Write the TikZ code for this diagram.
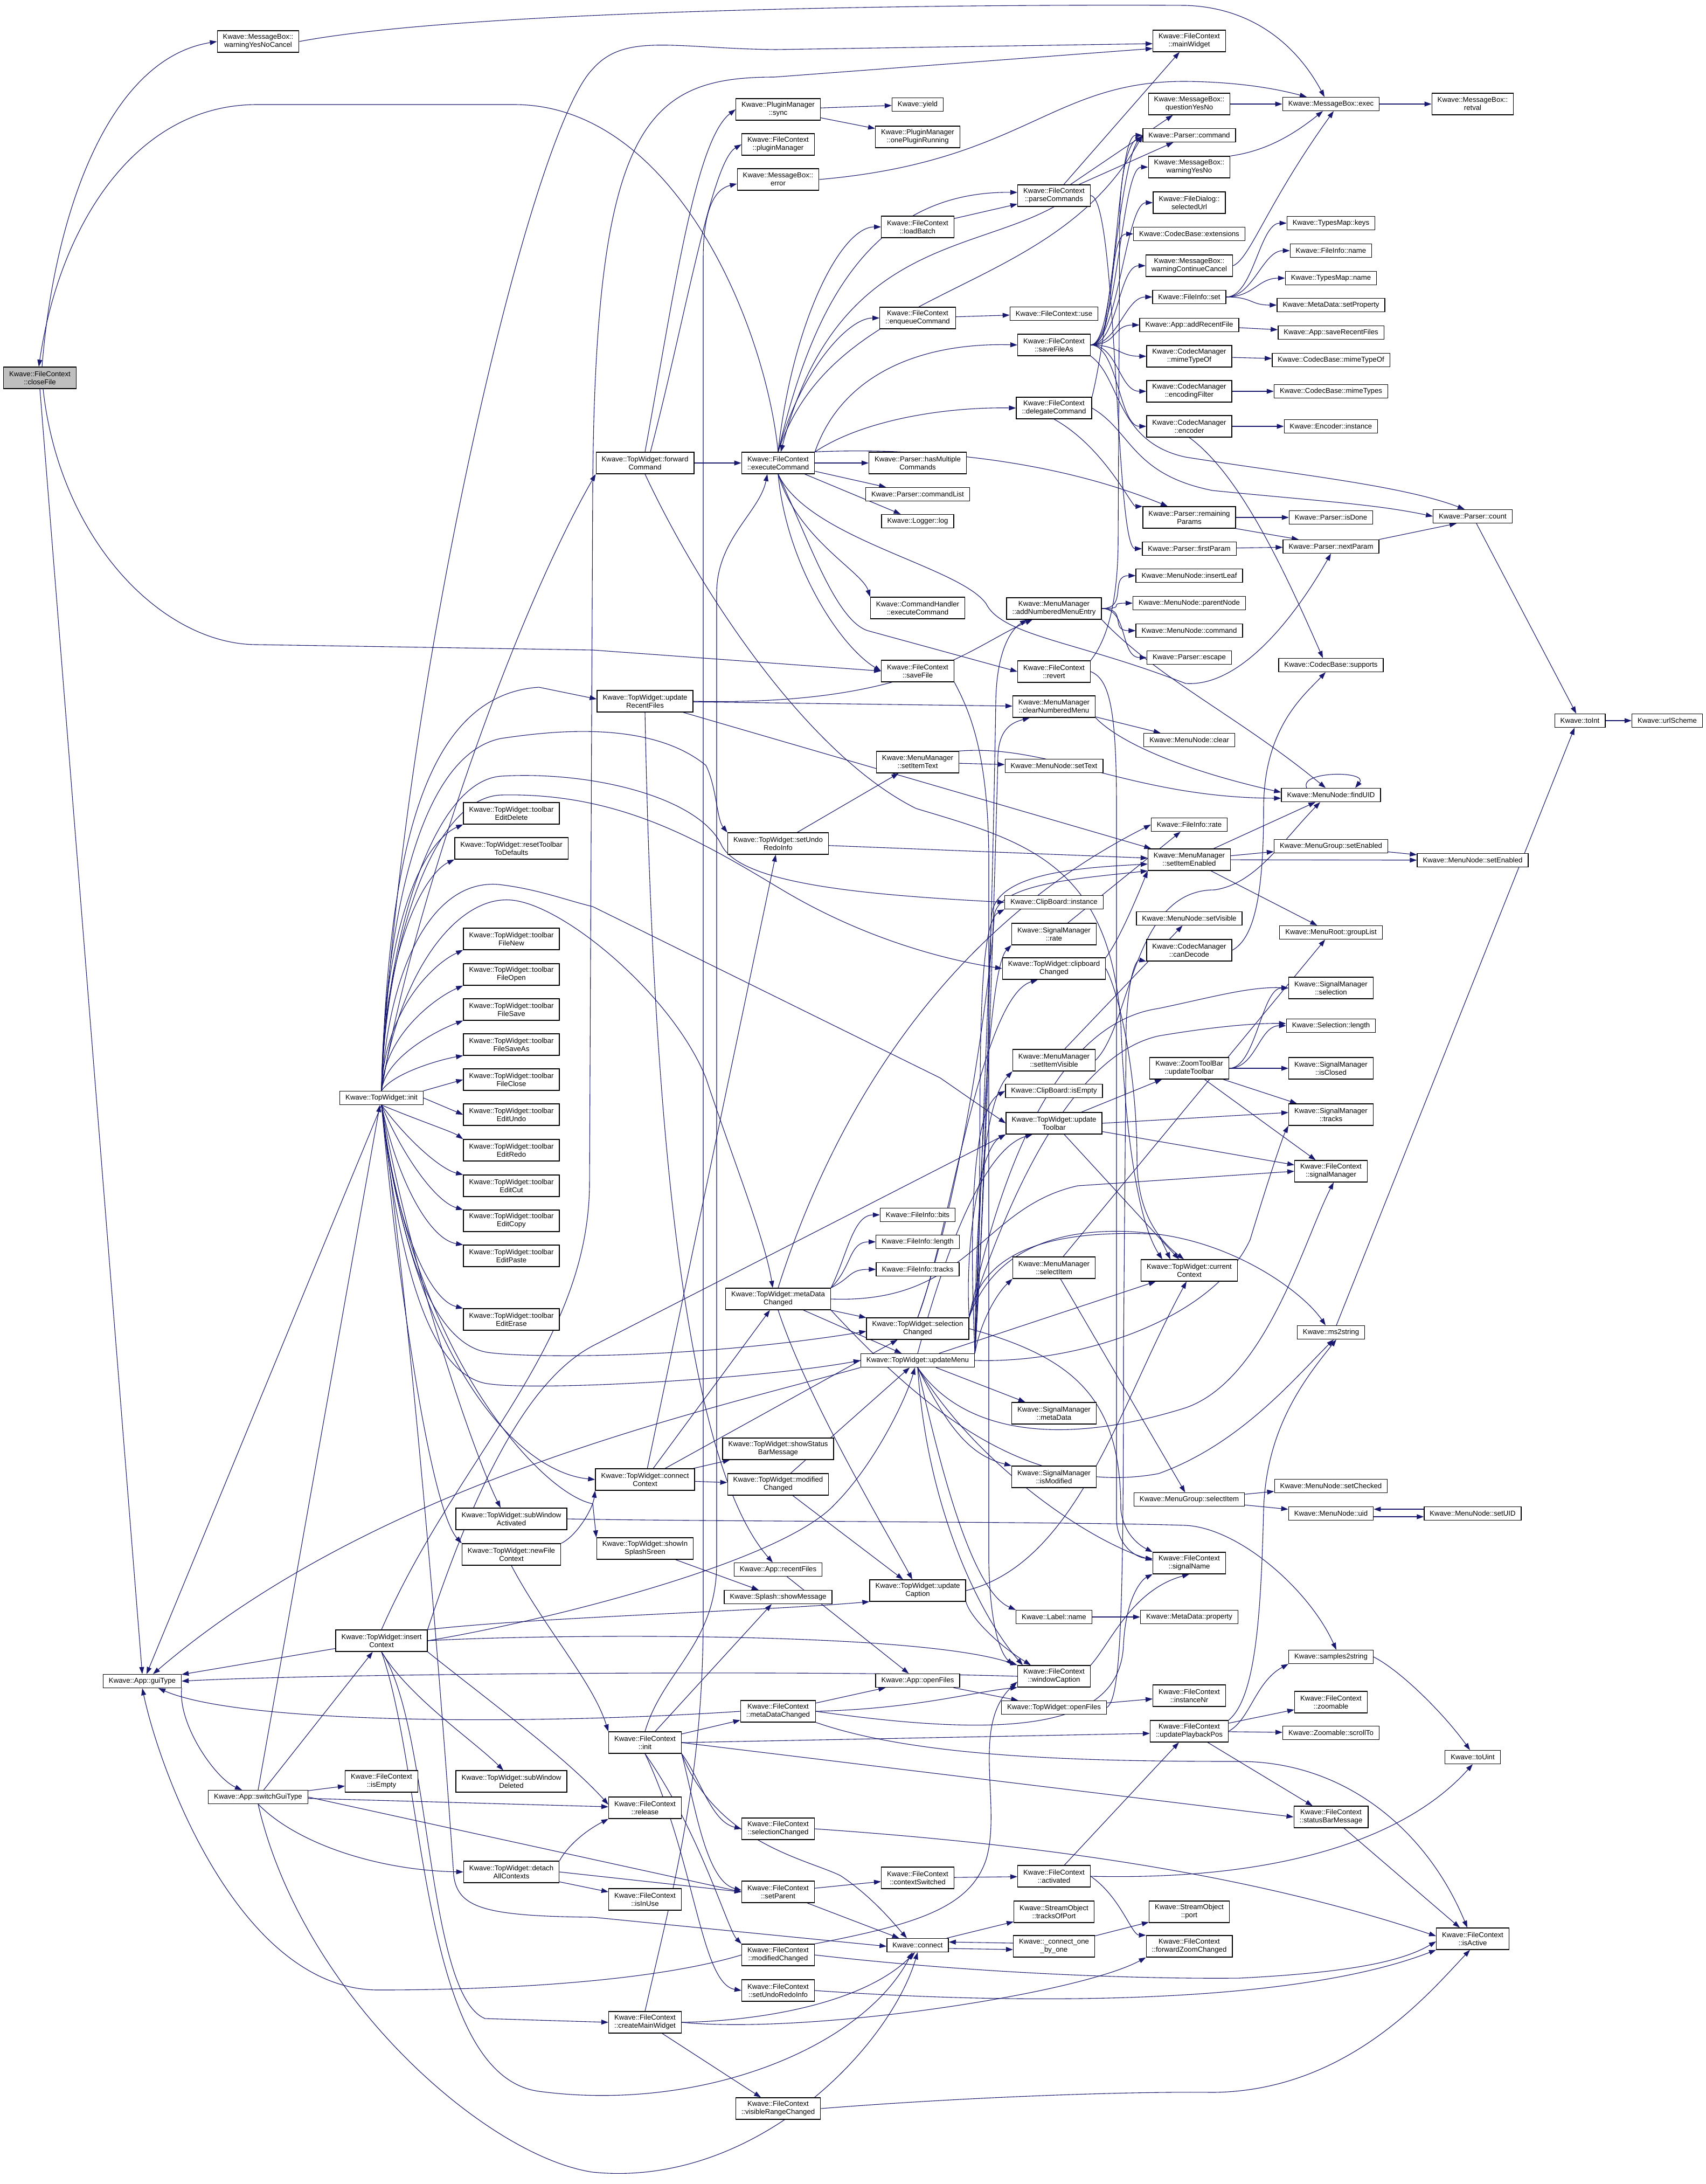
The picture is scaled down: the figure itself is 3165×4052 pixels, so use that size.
\documentclass[tikz,border=0pt]{standalone}
\usepackage{fontspec}
\setmainfont{Liberation Sans}
\usetikzlibrary{arrows.meta,backgrounds}
\definecolor{eb}{RGB}{25,25,112}
\definecolor{gr}{RGB}{191,191,191}
\newcommand\myS[2]{\draw[e] (#1) -- (#2);}
\newcommand\myR[2]{\draw[e] (#1.east) .. controls +(50,0) and +(-50,0) .. (#2.west);}
\begin{document}
\begin{tikzpicture}[x=1pt,y=-1pt,
 n/.style={draw=black,line width=1.3pt,fill=white,font=\fontsize{13.2}{15}\selectfont,inner xsep=10.5pt,inner ysep=1pt,minimum height=25pt,align=center},
 d/.style={n,minimum height=40pt},
 e/.style={draw=eb,line width=1.1pt,-{Triangle[length=13pt,width=9pt]}}]
\useasboundingbox (0,0) rectangle (3165,4052);
% ---------------- nodes ----------------
\node[d,fill=gr] (closeFile) at (74,701) {Kwave::FileContext\\::closeFile};
\node[d] (wYNC) at (479,77) {Kwave::MessageBox::\\warningYesNoCancel};
\node[n] (guiType) at (264,3119) {Kwave::App::guiType};
\node[n] (switchGui) at (479,3334) {Kwave::App::switchGuiType};
\node[n] (twInit) at (708,2037) {Kwave::TopWidget::init};
\node[d] (insertCtx) at (708,3044) {Kwave::TopWidget::insert\\Context};
\node[d] (isEmpty) at (708,3305) {Kwave::FileContext\\::isEmpty};
\node[d] (tbEditDelete) at (949,1509) {Kwave::TopWidget::toolbar\\EditDelete};
\node[d] (resetTb) at (949,1574) {Kwave::TopWidget::resetToolbar\\ToDefaults};
\node[d] (tbFileNew) at (949,1742) {Kwave::TopWidget::toolbar\\FileNew};
\node[d] (tbFileOpen) at (949,1808) {Kwave::TopWidget::toolbar\\FileOpen};
\node[d] (tbFileSave) at (949,1873) {Kwave::TopWidget::toolbar\\FileSave};
\node[d] (tbFileSaveAs) at (949,1938) {Kwave::TopWidget::toolbar\\FileSaveAs};
\node[d] (tbFileClose) at (949,2003) {Kwave::TopWidget::toolbar\\FileClose};
\node[d] (tbEditUndo) at (949,2068) {Kwave::TopWidget::toolbar\\EditUndo};
\node[d] (tbEditRedo) at (949,2134) {Kwave::TopWidget::toolbar\\EditRedo};
\node[d] (tbEditCut) at (949,2200) {Kwave::TopWidget::toolbar\\EditCut};
\node[d] (tbEditCopy) at (949,2265) {Kwave::TopWidget::toolbar\\EditCopy};
\node[d] (tbEditPaste) at (949,2330) {Kwave::TopWidget::toolbar\\EditPaste};
\node[d] (tbEditErase) at (949,2448) {Kwave::TopWidget::toolbar\\EditErase};
\node[d] (subWinAct) at (949,2818) {Kwave::TopWidget::subWindow\\Activated};
\node[d] (newFileCtx) at (949,2884) {Kwave::TopWidget::newFile\\Context};
\node[d] (subWinDel) at (949,3305) {Kwave::TopWidget::subWindow\\Deleted};
\node[d] (detachAll) at (949,3473) {Kwave::TopWidget::detach\\AllContexts};
\node[d] (fwdCmd) at (1197,859) {Kwave::TopWidget::forward\\Command};
\node[d] (updRecent) at (1197,1301) {Kwave::TopWidget::update\\RecentFiles};
\node[d] (connCtx) at (1197,2745) {Kwave::TopWidget::connect\\Context};
\node[d] (showInSplash) at (1197,2873) {Kwave::TopWidget::showIn\\SplashSreen};
\node[d] (fcInit) at (1197,3233) {Kwave::FileContext\\::init};
\node[d] (release) at (1197,3354) {Kwave::FileContext\\::release};
\node[d] (isInUse) at (1197,3524) {Kwave::FileContext\\::isInUse};
\node[d] (createMW) at (1197,3752) {Kwave::FileContext\\::createMainWidget};
\node[d] (pmSync) at (1444,203) {Kwave::PluginManager\\::sync};
\node[d] (pluginMgr) at (1444,268) {Kwave::FileContext\\::pluginManager};
\node[d] (mbError) at (1444,333) {Kwave::MessageBox::\\error};
\node[d] (execCmd) at (1444,859) {Kwave::FileContext\\::executeCommand};
\node[d] (twSetUndo) at (1444,1565) {Kwave::TopWidget::setUndo\\RedoInfo};
\node[d] (twMetaChg) at (1444,2410) {Kwave::TopWidget::metaData\\Changed};
\node[d] (showStatus) at (1444,2688) {Kwave::TopWidget::showStatus\\BarMessage};
\node[d] (twModChg) at (1444,2754) {Kwave::TopWidget::modified\\Changed};
\node[n] (recentFiles) at (1444,2912) {Kwave::App::recentFiles};
\node[n] (splashMsg) at (1444,2963) {Kwave::Splash::showMessage};
\node[d] (fcMetaChg) at (1444,3175) {Kwave::FileContext\\::metaDataChanged};
\node[d] (fcSelChg) at (1444,3393) {Kwave::FileContext\\::selectionChanged};
\node[d] (setParent) at (1444,3510) {Kwave::FileContext\\::setParent};
\node[d] (fcModChg) at (1444,3627) {Kwave::FileContext\\::modifiedChanged};
\node[d] (fcSetUndo) at (1444,3693) {Kwave::FileContext\\::setUndoRedoInfo};
\node[d] (visRange) at (1444,3912) {Kwave::FileContext\\::visibleRangeChanged};
\node[n] (yield) at (1703,194) {Kwave::yield};
\node[d] (onePlugin) at (1703,254) {Kwave::PluginManager\\::onePluginRunning};
\node[d] (loadBatch) at (1703,421) {Kwave::FileContext\\::loadBatch};
\node[d] (enqueue) at (1703,590) {Kwave::FileContext\\::enqueueCommand};
\node[d] (hasMulti) at (1703,859) {Kwave::Parser::hasMultiple\\Commands};
\node[n] (cmdList) at (1703,917) {Kwave::Parser::commandList};
\node[n] (logN) at (1703,967) {Kwave::Logger::log};
\node[d] (chExec) at (1703,1128) {Kwave::CommandHandler\\::executeCommand};
\node[d] (saveFile) at (1703,1245) {Kwave::FileContext\\::saveFile};
\node[d] (setItemText) at (1703,1414) {Kwave::MenuManager\\::setItemText};
\node[n] (fiBits) at (1703,2254) {Kwave::FileInfo::bits};
\node[n] (fiLength) at (1703,2304) {Kwave::FileInfo::length};
\node[n] (fiTracks) at (1703,2355) {Kwave::FileInfo::tracks};
\node[d] (twSelChg) at (1703,2465) {Kwave::TopWidget::selection\\Changed};
\node[n] (updMenu) at (1703,2524) {Kwave::TopWidget::updateMenu};
\node[d] (updCaption) at (1703,2951) {Kwave::TopWidget::update\\Caption};
\node[n] (appOpenFiles) at (1703,3118) {Kwave::App::openFiles};
\node[d] (ctxSwitched) at (1703,3484) {Kwave::FileContext\\::contextSwitched};
\node[n] (connectN) at (1703,3609) {Kwave::connect};
\node[d] (parseCmds) at (1956,363) {Kwave::FileContext\\::parseCommands};
\node[n] (fcUse) at (1956,582) {Kwave::FileContext::use};
\node[d] (saveFileAs) at (1956,640) {Kwave::FileContext\\::saveFileAs};
\node[d] (delegate) at (1956,757) {Kwave::FileContext\\::delegateCommand};
\node[d] (addNumbered) at (1956,1129) {Kwave::MenuManager\\::addNumberedMenuEntry};
\node[d] (revert) at (1956,1246) {Kwave::FileContext\\::revert};
\node[d] (clearNumbered) at (1956,1311) {Kwave::MenuManager\\::clearNumberedMenu};
\node[n] (mnSetText) at (1956,1421) {Kwave::MenuNode::setText};
\node[n] (cbInstance) at (1956,1674) {Kwave::ClipBoard::instance};
\node[d] (smRate) at (1956,1733) {Kwave::SignalManager\\::rate};
\node[d] (clipChg) at (1956,1797) {Kwave::TopWidget::clipboard\\Changed};
\node[d] (setItemVisible) at (1956,1967) {Kwave::MenuManager\\::setItemVisible};
\node[n] (cbIsEmpty) at (1956,2024) {Kwave::ClipBoard::isEmpty};
\node[d] (updToolbar) at (1956,2084) {Kwave::TopWidget::update\\Toolbar};
\node[d] (mmSelectItem) at (1956,2352) {Kwave::MenuManager\\::selectItem};
\node[d] (smMetaData) at (1956,2622) {Kwave::SignalManager\\::metaData};
\node[d] (smIsModified) at (1956,2740) {Kwave::SignalManager\\::isModified};
\node[n] (labelName) at (1956,3000) {Kwave::Label::name};
\node[d] (winCaption) at (1956,3110) {Kwave::FileContext\\::windowCaption};
\node[n] (twOpenFiles) at (1956,3168) {Kwave::TopWidget::openFiles};
\node[d] (activated) at (1956,3481) {Kwave::FileContext\\::activated};
\node[d] (tracksOfPort) at (1956,3547) {Kwave::StreamObject\\::tracksOfPort};
\node[d] (connOne) at (1956,3611) {Kwave::\_connect\_one\\\_by\_one};
\node[d] (mainWidget) at (2207,76) {Kwave::FileContext\\::mainWidget};
\node[d] (questionYN) at (2207,193) {Kwave::MessageBox::\\questionYesNo};
\node[n] (parserCommand) at (2207,251) {Kwave::Parser::command};
\node[d] (warnYN) at (2207,310) {Kwave::MessageBox::\\warningYesNo};
\node[d] (selectedUrl) at (2207,376) {Kwave::FileDialog::\\selectedUrl};
\node[n] (extensions) at (2207,434) {Kwave::CodecBase::extensions};
\node[d] (warnCC) at (2207,493) {Kwave::MessageBox::\\warningContinueCancel};
\node[n] (fiSet) at (2207,551) {Kwave::FileInfo::set};
\node[n] (addRecent) at (2207,603) {Kwave::App::addRecentFile};
\node[d] (cmMimeTypeOf) at (2207,661) {Kwave::CodecManager\\::mimeTypeOf};
\node[d] (encFilter) at (2207,726) {Kwave::CodecManager\\::encodingFilter};
\node[d] (encoder) at (2207,791) {Kwave::CodecManager\\::encoder};
\node[d] (remaining) at (2207,960) {Kwave::Parser::remaining\\Params};
\node[n] (firstParam) at (2207,1018) {Kwave::Parser::firstParam};
\node[n] (insertLeaf) at (2207,1068) {Kwave::MenuNode::insertLeaf};
\node[n] (parentNode) at (2207,1119) {Kwave::MenuNode::parentNode};
\node[n] (mnCommand) at (2207,1170) {Kwave::MenuNode::command};
\node[n] (escapeN) at (2207,1220) {Kwave::Parser::escape};
\node[n] (mnClear) at (2207,1373) {Kwave::MenuNode::clear};
\node[n] (fiRate) at (2207,1530) {Kwave::FileInfo::rate};
\node[d] (setItemEnabled) at (2207,1595) {Kwave::MenuManager\\::setItemEnabled};
\node[n] (mnSetVisible) at (2207,1704) {Kwave::MenuNode::setVisible};
\node[d] (canDecode) at (2207,1763) {Kwave::CodecManager\\::canDecode};
\node[d] (zoomTb) at (2207,1982) {Kwave::ZoomToolBar\\::updateToolbar};
\node[d] (curCtx) at (2207,2357) {Kwave::TopWidget::current\\Context};
\node[n] (mgSelectItem) at (2207,2782) {Kwave::MenuGroup::selectItem};
\node[d] (signalName) at (2207,2900) {Kwave::FileContext\\::signalName};
\node[n] (mdProperty) at (2207,3000) {Kwave::MetaData::property};
\node[d] (instanceNr) at (2207,3146) {Kwave::FileContext\\::instanceNr};
\node[d] (updPlayback) at (2207,3212) {Kwave::FileContext\\::updatePlaybackPos};
\node[d] (soPort) at (2207,3547) {Kwave::StreamObject\\::port};
\node[d] (fwdZoom) at (2207,3611) {Kwave::FileContext\\::forwardZoomChanged};
\node[n] (mbExec) at (2470,193) {Kwave::MessageBox::exec};
\node[n] (tmKeys) at (2470,414) {Kwave::TypesMap::keys};
\node[n] (fiName) at (2470,465) {Kwave::FileInfo::name};
\node[n] (tmName) at (2470,516) {Kwave::TypesMap::name};
\node[n] (mdSetProp) at (2470,566) {Kwave::MetaData::setProperty};
\node[n] (saveRecent) at (2470,617) {Kwave::App::saveRecentFiles};
\node[n] (cbMimeTypeOf) at (2470,668) {Kwave::CodecBase::mimeTypeOf};
\node[n] (mimeTypes) at (2470,726) {Kwave::CodecBase::mimeTypes};
\node[n] (encInstance) at (2470,791) {Kwave::Encoder::instance};
\node[n] (isDone) at (2470,960) {Kwave::Parser::isDone};
\node[n] (nextParam) at (2470,1014) {Kwave::Parser::nextParam};
\node[n] (supports) at (2470,1234) {Kwave::CodecBase::supports};
\node[n] (findUID) at (2470,1475) {Kwave::MenuNode::findUID};
\node[n] (mgSetEnabled) at (2470,1570) {Kwave::MenuGroup::setEnabled};
\node[n] (groupList) at (2470,1730) {Kwave::MenuRoot::groupList};
\node[d] (smSelection) at (2470,1833) {Kwave::SignalManager\\::selection};
\node[n] (selLength) at (2470,1903) {Kwave::Selection::length};
\node[d] (smIsClosed) at (2470,1982) {Kwave::SignalManager\\::isClosed};
\node[d] (smTracks) at (2470,2068) {Kwave::SignalManager\\::tracks};
\node[d] (signalMgr) at (2470,2173) {Kwave::FileContext\\::signalManager};
\node[n] (ms2string) at (2470,2472) {Kwave::ms2string};
\node[n] (setChecked) at (2470,2757) {Kwave::MenuNode::setChecked};
\node[n] (mnUid) at (2470,2808) {Kwave::MenuNode::uid};
\node[n] (samples2string) at (2470,3074) {Kwave::samples2string};
\node[d] (zoomable) at (2470,3158) {Kwave::FileContext\\::zoomable};
\node[n] (scrollTo) at (2470,3215) {Kwave::Zoomable::scrollTo};
\node[d] (statusBar) at (2470,3371) {Kwave::FileContext\\::statusBarMessage};
\node[d] (retval) at (2733,193) {Kwave::MessageBox::\\retval};
\node[n] (countN) at (2733,958) {Kwave::Parser::count};
\node[n] (mnSetEnabled) at (2733,1596) {Kwave::MenuNode::setEnabled};
\node[n] (setUID) at (2733,2808) {Kwave::MenuNode::setUID};
\node[n] (toUint) at (2733,3260) {Kwave::toUint};
\node[d] (isActive) at (2733,3597) {Kwave::FileContext\\::isActive};
\node[n] (toInt) at (2932,1337) {Kwave::toInt};
\node[n] (urlScheme) at (3094,1337) {Kwave::urlScheme};
% ---------------- edges ----------------
\begin{scope}[on background layer]
\fill[white] (0,0) rectangle (3165,4052);
% closeFile
\draw[e] ([xshift=4pt]closeFile.north) .. controls (100,400) and (200,110) .. (wYNC.west);
\draw[e] (wYNC.east) .. controls (900,12) and (1900,8) .. (2200,10) .. controls (2330,14) and (2410,90) .. ([xshift=-12pt]mbExec.north);
\draw[e] (execCmd.north) .. controls (1420,600) and (1250,194) .. (954,194) -- (477,194) .. controls (250,194) and (110,420) .. ([xshift=-2pt]closeFile.north);
\draw[e] (closeFile.south) -- (guiType.north);
\draw[e] ([xshift=6pt]closeFile.south) .. controls (110,1000) and (300,1196) .. (477,1196) -- (1100,1206) -- (saveFile.west);
% mainWidget
\draw[e] (twInit.north) .. controls (740,1300) and (980,250) .. (1100,128) .. controls (1160,60) and (1250,90) .. (1440,92) -- ([yshift=-5pt]mainWidget.west);
\draw[e] (insertCtx.north) .. controls (850,2700) and (1090,2500) .. (1094,2200) -- (1100,900) .. controls (1105,230) and (1200,143) .. (1437,143) -- ([yshift=-14pt]mainWidget.west);
\myS{parseCmds}{mainWidget}
% plugin / error
\draw[e] (fwdCmd.north) .. controls (1250,550) and (1290,260) .. (pmSync.west);
\draw[e] ([xshift=10pt]fwdCmd.north) .. controls (1270,600) and (1320,300) .. (pluginMgr.west);
\draw[e] (createMW.north) .. controls (1250,3500) and (1305,3300) .. (1305,3000) -- (1305,480) .. controls (1305,380) and (1330,350) .. ([yshift=-8pt]mbError.west);
\myS{pmSync}{yield}
\myS{pmSync}{onePlugin}
\draw[e] (mbError.east) .. controls (1900,300) and (1950,150) .. (2200,151) .. controls (2300,152) and (2370,165) .. ([xshift=-45pt]mbExec.north);
\myS{questionYN}{mbExec}
\draw[e] (warnYN.north east) .. controls (2350,280) and (2400,250) .. ([xshift=-15pt]mbExec.south);
\draw[e] (warnCC.east) .. controls (2320,480) and (2350,380) .. ([xshift=5pt]mbExec.south);
\myS{mbExec}{retval}
% parse / execute
\myS{parseCmds}{questionYN}
\myS{parseCmds}{parserCommand}
\draw[e] (execCmd.north) .. controls (1500,600) and (1600,354) .. ([yshift=6pt]parseCmds.west);
\myS{loadBatch}{parseCmds}
\draw[e] (execCmd.north) .. controls (1470,600) and (1560,421) .. (loadBatch.west);
\draw[e] (execCmd.north) .. controls (1480,700) and (1570,590) .. (enqueue.west);
\myS{enqueue}{fcUse}
\draw[e] (execCmd.north east) .. controls (1560,700) and (1700,635) .. (saveFileAs.west);
\draw[e] (execCmd.north east) .. controls (1600,780) and (1750,755) .. (delegate.west);
\myS{execCmd}{hasMulti}
\myS{execCmd}{cmdList}
\myS{execCmd}{logN}
\draw[e] (execCmd.south) .. controls (1480,1000) and (1600,1060) .. (chExec.north west);
\draw[e] (execCmd.south) .. controls (1460,1050) and (1560,1200) .. (saveFile.west);
\draw[e] (execCmd.south) .. controls (1500,1000) and (1550,1150) .. (1610,1170) -- (revert.west);
\myS{fwdCmd}{execCmd}
\draw[e] (parseCmds.south) .. controls (1800,470) and (1550,450) .. ([xshift=5pt]execCmd.north);
\draw[e] (execCmd.north) .. controls (1550,520) and (1950,560) .. (parserCommand.west);
% saveFileAs
\myR{saveFileAs}{parserCommand}
\myR{saveFileAs}{warnYN}
\myR{saveFileAs}{selectedUrl}
\myR{saveFileAs}{extensions}
\myR{saveFileAs}{warnCC}
\myR{saveFileAs}{fiSet}
\myR{saveFileAs}{addRecent}
\myR{saveFileAs}{cmMimeTypeOf}
\myR{saveFileAs}{encFilter}
\myR{saveFileAs}{encoder}
\draw[e] (saveFileAs.south east) .. controls (2080,700) and (2070,820) .. (2200,848) .. controls (2400,880) and (2600,900) .. ([xshift=-15pt]countN.north);
\draw[e] (delegate.east) .. controls (2100,800) and (2100,880) .. (2250,910) .. controls (2450,930) and (2550,935) .. (countN.west);
\draw[e] (delegate.north east) .. controls (2060,600) and (2080,300) .. (parserCommand.west);
\draw[e] (delegate.south) .. controls (2050,830) and (2100,940) .. (remaining.north west);
\draw[e] (execCmd.north east) .. controls (1700,830) and (1950,850) .. ([xshift=-40pt]remaining.north);
\myR{parseCmds}{firstParam}
\draw[e] (execCmd.south) .. controls (1500,1000) and (1780,1050) .. (1830,1120) .. controls (1860,1180) and (2000,1190) .. (2200,1268) .. controls (2300,1275) and (2400,1150) .. (nextParam.south);
\draw[e] (revert.north east) .. controls (2060,1180) and (2075,1100) .. (2075,1000) -- (2078,400) .. controls (2080,300) and (2100,262) .. ([yshift=-4pt]parserCommand.west);
\draw[e] (revert.east) .. controls (2060,1260) and (2072,1320) .. (2072,1500) -- (2072,2820) .. controls (2074,2870) and (2110,2890) .. ([yshift=8pt]signalName.west);
\draw[e] (saveFile.south east) .. controls (1800,1320) and (1835,1400) .. (1835,1600) -- (1835,2900) .. controls (1838,3030) and (1860,3070) .. ([xshift=-8pt]winCaption.north west);
% right part
\myR{fiSet}{tmKeys}
\myR{fiSet}{fiName}
\myR{fiSet}{tmName}
\myR{fiSet}{mdSetProp}
\myS{addRecent}{saveRecent}
\myS{cmMimeTypeOf}{cbMimeTypeOf}
\myS{encFilter}{mimeTypes}
\myS{encoder}{encInstance}
\draw[e] (encoder.south) .. controls (2300,880) and (2380,1050) .. ([xshift=-15pt]supports.north);
\draw[e] (canDecode.east) .. controls (2330,1740) and (2345,1650) .. (2345,1500) .. controls (2345,1350) and (2420,1290) .. ([xshift=-10pt]supports.south);
\myS{remaining}{isDone}
\draw[e] (remaining.south east) -- ([xshift=-60pt]nextParam.north);
\myS{firstParam}{nextParam}
\draw[e] (nextParam.north east) -- ([xshift=-30pt]countN.south);
\myS{countN}{toInt}
\myS{toInt}{urlScheme}
\draw[e] ([xshift=10pt]ms2string.north) -- ([xshift=-10pt]toInt.south);
\draw[e] (samples2string.east) .. controls (2600,3100) and (2680,3180) .. ([xshift=-5pt]toUint.north);
\draw[e] (activated.east) .. controls (2400,3490) and (2620,3400) .. (toUint.south);
% menus
\myR{addNumbered}{insertLeaf}
\myR{addNumbered}{parentNode}
\myR{addNumbered}{mnCommand}
\myR{addNumbered}{escapeN}
\draw[e] (addNumbered.south east) .. controls (2150,1260) and (2300,1330) .. ([xshift=-10pt]findUID.north);
\myS{clearNumbered}{mnClear}
\draw[e] (clearNumbered.south east) .. controls (2080,1380) and (2200,1430) .. ([yshift=5pt]findUID.west);
\myS{setItemText}{mnSetText}
\draw[e] (setItemText.north east) .. controls (1950,1380) and (2100,1480) .. ([yshift=-6pt]findUID.west);
\myS{twSetUndo}{setItemText}
\myS{twSetUndo}{setItemEnabled}
\myS{updRecent}{clearNumbered}
\draw[e] (updRecent.east) .. controls (1700,1310) and (1800,1200) .. ([xshift=-40pt]addNumbered.south);
\myS{updRecent}{setItemEnabled}
\draw[e] (updRecent.south) .. controls (1210,2000) and (1260,2700) .. ([xshift=-10pt]recentFiles.north);
\myS{recentFiles}{appOpenFiles}
\myS{setItemEnabled}{findUID}
\myS{setItemEnabled}{mgSetEnabled}
\myS{setItemEnabled}{mnSetEnabled}
\myS{setItemEnabled}{groupList}
\myS{mgSetEnabled}{mnSetEnabled}
\myS{setItemVisible}{mnSetVisible}
\draw[e] (setItemVisible.east) .. controls (2100,1900) and (2100,1651) .. (2254,1651) .. controls (2330,1640) and (2380,1560) .. ([xshift=-20pt]findUID.south);
\myS{smRate}{fiRate}
\myS{mmSelectItem}{mgSelectItem}
\myS{mmSelectItem}{groupList}
\myS{mgSelectItem}{setChecked}
\myS{mgSelectItem}{mnUid}
\draw[e] ([yshift=8pt]setUID.west) -- ([yshift=8pt]mnUid.east);
\draw[e] ([yshift=-6pt]mnUid.east) -- ([yshift=-6pt]setUID.west);
\draw[e] ([xshift=-45pt]findUID.north) .. controls +(-15,-32) and +(25,-32) .. ([xshift=45pt]findUID.north);
\myR{zoomTb}{smSelection}
\myR{zoomTb}{selLength}
\myS{zoomTb}{smIsClosed}
\myS{zoomTb}{smTracks}
\myS{zoomTb}{signalMgr}
\myS{updToolbar}{zoomTb}
% TopWidget::init
\draw[e] (twInit.north) .. controls (712,1700) and (790,1560) .. (tbEditDelete.south west);
\draw[e] (twInit.north) .. controls (712,1750) and (790,1620) .. (resetTb.south west);
\draw[e] (twInit.north) .. controls (712,1880) and (800,1790) .. (tbFileNew.south west);
\draw[e] (twInit.north) .. controls (712,1920) and (810,1850) .. (tbFileOpen.south west);
\draw[e] (twInit.north) .. controls (715,1960) and (815,1910) .. (tbFileSave.south west);
\draw[e] (twInit.north) .. controls (730,1990) and (820,1965) .. (tbFileSaveAs.south west);
\myS{twInit.north east}{tbFileClose.west}
\myS{twInit.east}{tbEditUndo.west}
\draw[e] (twInit.south) .. controls (780,2080) and (840,2100) .. (tbEditRedo.north west);
\draw[e] (twInit.south) .. controls (760,2120) and (820,2170) .. (tbEditCut.north west);
\draw[e] (twInit.south) .. controls (750,2150) and (810,2230) .. (tbEditCopy.north west);
\draw[e] (twInit.south) .. controls (740,2200) and (800,2300) .. (tbEditPaste.north west);
\draw[e] (twInit.south) .. controls (730,2250) and (790,2410) .. (tbEditErase.north west);
\draw[e] (twInit.south) .. controls (760,2350) and (880,2700) .. ([xshift=-20pt]subWinAct.north);
\draw[e] (twInit.south) .. controls (740,2400) and (800,2800) .. (newFileCtx.north west);
\draw[e] (twInit.south) .. controls (760,2500) and (1000,2770) .. (1100,2790) -- (showInSplash.north west);
\draw[e] (twInit.south) .. controls (760,2500) and (950,2730) .. (connCtx.west);
\draw[e] (twInit.north) .. controls (720,1600) and (780,1290) .. (1000,1275) -- ([yshift=4pt]updRecent.west);
\draw[e] (twInit.north) .. controls (760,1700) and (950,1150) .. (fwdCmd.south west);
\draw[e] (twInit.north) .. controls (715,1700) and (780,1400) .. (930,1370) .. controls (1000,1360) and (1200,1330) .. (1310,1420) .. controls (1330,1460) and (1330,1520) .. (twSetUndo.north west);
\draw[e] (twInit.north) .. controls (715,1750) and (800,1450) .. (930,1440) .. controls (1100,1430) and (1300,1480) .. (1340,1570) .. controls (1380,1640) and (1600,1660) .. (cbInstance.west);
\draw[e] (twInit.north) .. controls (715,1760) and (800,1480) .. (930,1475) .. controls (1150,1470) and (1300,1560) .. (1450,1650) .. controls (1600,1740) and (1750,1780) .. (clipChg.west);
\draw[e] (twInit.north) .. controls (720,1800) and (800,1630) .. (926,1641) .. controls (1000,1650) and (1050,1670) .. (1100,1682) -- (1745,2000) -- (updToolbar.west);
\draw[e] (twInit.north) .. controls (740,1800) and (850,1660) .. (950,1670) .. controls (1050,1680) and (1250,1850) .. (1310,2000) .. controls (1360,2150) and (1420,2300) .. ([xshift=-10pt]twMetaChg.north);
\draw[e] (twInit.south) .. controls (740,2300) and (800,2500) .. (912,2510) .. controls (1000,2520) and (1300,2520) .. ([yshift=-5pt]twSelChg.west);
\draw[e] (twInit.south) .. controls (740,2350) and (800,2560) .. (912,2568) .. controls (1000,2580) and (1400,2560) .. (updMenu.west);
\draw[e] (twInit.south) -- ([xshift=8pt]guiType.north);
\draw[e] (twInit.south) .. controls (780,2600) and (830,3300) .. (842,3480) .. controls (850,3540) and (900,3555) .. (1100,3557) -- ([yshift=-2pt]connectN.west);
% insertContext
\myS{insertCtx}{guiType}
\draw[e] (insertCtx.south) .. controls (760,3150) and (880,3230) .. ([xshift=-15pt]subWinDel.north);
\draw[e] (insertCtx.south east) .. controls (900,3150) and (1050,3260) .. ([yshift=6pt]release.west);
\draw[e] (insertCtx.south) .. controls (800,3200) and (790,3700) .. (900,3745) -- (createMW.west);
\draw[e] (insertCtx.south) .. controls (790,3300) and (780,3850) .. (1000,3880) .. controls (1300,3920) and (1600,3800) .. ([xshift=-10pt]connectN.south);
\draw[e] (insertCtx.east) .. controls (1000,3032) and (1700,3025) .. (winCaption.north west);
\draw[e] (insertCtx.east) .. controls (1000,3010) and (1450,2900) .. (1550,2790) .. controls (1620,2720) and (1680,2600) .. ([xshift=-5pt]updMenu.south);
\draw[e] (insertCtx.north east) .. controls (1000,3000) and (1400,2990) .. (updCaption.south west);
\draw[e] (insertCtx.north east) .. controls (900,2700) and (1000,2550) .. (1100,2497) -- (updToolbar.south west);
% switchGuiType
\draw[e] (guiType.south east) .. controls (330,3200) and (400,3300) .. ([xshift=-30pt]switchGui.north);
\myS{switchGui}{insertCtx}
\myS{switchGui}{isEmpty}
\draw[e] (switchGui.north) -- ([xshift=-3pt]twInit.south);
\myS{switchGui}{release}
\draw[e] (switchGui.east) -- (setParent.west);
\draw[e] (switchGui.south) .. controls (550,3420) and (700,3470) .. (detachAll.west);
\draw[e] (switchGui.south) .. controls (560,3700) and (900,4000) .. (1100,4030) .. controls (1400,4060) and (1650,3800) .. (connectN.south);
% detach / newFile / subWindow
\draw[e] (detachAll.north east) .. controls (1050,3430) and (1080,3400) .. (release.south west);
\myS{detachAll}{isInUse}
\draw[e] (detachAll.east) -- (setParent.west);
\draw[e] (newFileCtx.north east) .. controls (1070,2850) and (1100,2800) .. (connCtx.south west);
\draw[e] (newFileCtx.south) .. controls (1010,3020) and (1100,3120) .. (fcInit.north west);
\draw[e] (subWinAct.east) .. controls (1300,2823) and (2000,2823) .. (2200,2830) .. controls (2300,2835) and (2430,2950) .. ([xshift=10pt]samples2string.north);
% connectContext
\myS{connCtx}{showStatus}
\myS{connCtx}{twModChg}
\myS{connCtx}{twMetaChg}
\myS{connCtx}{twSelChg}
\myS{connCtx}{twSetUndo}
\myS{showInSplash}{splashMsg}
\myS{twModChg}{updCaption}
\myS{twModChg}{updMenu}
% metaDataChanged (TopWidget)
\draw[e] (twMetaChg.north east) .. controls +(30,-60) and +(-50,0) .. (fiBits.west);
\draw[e] (twMetaChg.north east) .. controls +(40,-40) and +(-50,0) .. (fiLength.west);
\draw[e] (twMetaChg.north east) .. controls +(40,-20) and +(-50,0) .. (fiTracks.west);
\myS{twMetaChg}{twSelChg}
\myS{twMetaChg}{updMenu}
\draw[e] (twMetaChg.north) .. controls (1520,2150) and (1700,1750) .. (fiRate.west);
\draw[e] (twMetaChg.south) .. controls (1500,2600) and (1650,2850) .. ([xshift=-10pt]updCaption.north);
\draw[e] (twMetaChg.east) .. controls (1800,2420) and (1820,2240) .. (2000,2200) -- (signalMgr.west);
\draw[e] (twMetaChg.south east) .. controls (1700,2600) and (1900,2780) .. (2150,2734) .. controls (2300,2680) and (2400,2560) .. ([xshift=5pt]ms2string.south);
% selectionChanged (TopWidget)
\draw[e] (twSelChg.north east) .. controls (1790,2300) and (1820,2130) .. (updToolbar.south west);
\draw[e] (twSelChg.north) .. controls (1790,2200) and (1840,1800) .. (1845,1700) .. controls (1850,1640) and (2000,1630) .. (setItemEnabled.south west);
\draw[e] (twSelChg.north east) .. controls (1820,2320) and (1950,2280) .. (2150,2290) -- ([xshift=-35pt]curCtx.north);
\draw[e] (twSelChg.north east) .. controls (1850,2200) and (1950,1900) .. (2150,1871) .. controls (2250,1850) and (2320,1830) .. (smSelection.west);
\draw[e] (twSelChg.north east) .. controls (1860,2250) and (1980,1960) .. (2150,1922) .. controls (2250,1905) and (2330,1898) .. ([yshift=4pt]selLength.west);
\draw[e] (twSelChg.north east) .. controls (1850,2300) and (2000,2270) .. (2150,2290) .. controls (2300,2310) and (2420,2400) .. ([xshift=-10pt]ms2string.north);
\draw[e] (twSelChg.east) .. controls (2000,2520) and (2080,2600) .. (2080,2800) .. controls (2085,2850) and (2120,2870) .. (signalName.north west);
\draw[e] (twSelChg.north) .. controls (1760,2300) and (1820,1850) .. ([xshift=-30pt]clipChg.south);
% updateMenu
\myS{updMenu}{smMetaData}
\draw[e] (updMenu.south) .. controls (1760,2650) and (1800,2700) .. (smIsModified.north west);
\draw[e] (updMenu.south) .. controls (1800,2700) and (2000,2850) .. ([yshift=5pt]signalName.west);
\draw[e] (updMenu.south) .. controls (1740,2700) and (1800,2950) .. (labelName.north west);
\myS{updMenu}{curCtx}
\draw[e] (updMenu.north east) .. controls (1820,2450) and (1850,2400) .. (mmSelectItem.south west);
\draw[e] (updMenu.north east) .. controls (1820,2200) and (1835,1800) .. (1840,1700) .. controls (1845,1620) and (2000,1610) .. ([yshift=-8pt]setItemEnabled.west);
\draw[e] (updMenu.north east) .. controls (1810,2300) and (1820,2050) .. (setItemVisible.south west);
\draw[e] (updMenu.north east) .. controls (1815,2300) and (1830,1800) .. (smRate.south west);
\draw[e] (updMenu.north east) .. controls (1830,2200) and (1845,1500) .. (1848,1300) .. controls (1850,1200) and (1880,1165) .. ([xshift=-50pt]addNumbered.south);
\draw[e] (updMenu.north east) .. controls (1830,2200) and (1850,1500) .. (1852,1400) .. controls (1855,1350) and (1880,1340) .. ([xshift=-45pt]clearNumbered.south);
\draw[e] (updMenu.south west) .. controls (1300,2620) and (700,2750) .. ([xshift=20pt]guiType.north);
\draw[e] (updMenu.south) .. controls (1720,2800) and (1820,3000) .. ([xshift=10pt]winCaption.north west);
\draw[e] (updMenu.south) .. controls (1780,2650) and (1950,2690) .. (2200,2612) .. controls (2350,2560) and (2420,2300) .. ([xshift=5pt]signalMgr.south);
\draw[e] (updMenu.north) .. controls (1760,2300) and (1830,2130) .. ([xshift=-40pt]updToolbar.south);
\draw[e] (updMenu.north east) .. controls (1800,2300) and (1800,2060) .. (cbIsEmpty.west);
\draw[e] (updMenu.north east) .. controls (1830,2200) and (1800,1720) .. (cbInstance.south west);
\draw[e] (updMenu.east) .. controls (2000,2530) and (2250,2450) .. (2320,2300) .. controls (2350,2200) and (2380,2110) .. (smTracks.south west);
% updateToolbar / clipboard / forward
\myS{updToolbar}{curCtx}
\draw[e] (updToolbar.east) -- ([yshift=4pt]smTracks.west);
\myS{updToolbar}{signalMgr}
\draw[e] (clipChg.north east) .. controls (2080,1740) and (2120,1640) .. (setItemEnabled.south west);
\draw[e] (clipChg.east) .. controls (2080,1850) and (2110,2000) .. (2110,2150) .. controls (2110,2250) and (2150,2300) .. ([xshift=-10pt]curCtx.north);
\draw[e] (fwdCmd.south) .. controls (1300,1100) and (1500,1400) .. (1700,1500) .. controls (1900,1560) and (2060,1600) .. (2080,1900) .. controls (2090,2150) and (2120,2280) .. ([xshift=-50pt]curCtx.north);
\draw[e] (updCaption.south east) .. controls (1800,3000) and (1850,3050) .. ([xshift=25pt]winCaption.north west);
\draw[e] (updCaption.east) .. controls (2000,2900) and (2080,2600) .. ([xshift=-5pt]curCtx.south);
% FileContext::init and friends
\myS{fcInit}{fcMetaChg}
\draw[e] (fcInit.south east) .. controls (1300,3300) and (1320,3380) .. (fcSelChg.west);
\draw[e] (fcInit.south east) .. controls (1290,3350) and (1310,3490) .. ([yshift=3pt]setParent.west);
\draw[e] (fcInit.south) .. controls (1300,3400) and (1350,3580) .. (fcModChg.north west);
\draw[e] (fcInit.south) .. controls (1290,3450) and (1300,3680) .. (fcSetUndo.west);
\draw[e] (fcInit.south east) .. controls (1330,3420) and (1500,3450) .. (1560,3480) .. controls (1620,3520) and (1660,3570) .. ([xshift=-20pt]connectN.north);
\draw[e] (fcInit.east) -- ([yshift=-4pt]updPlayback.west);
\draw[e] (fcInit.east) -- (statusBar.west);
\myS{fcInit}{splashMsg}
\draw[e] (fcInit.north) .. controls (1230,3100) and (1330,3050) .. (1330,2900) -- (1330,1100) .. controls (1330,1000) and (1410,950) .. ([xshift=-20pt]execCmd.south);
\myS{fcMetaChg}{appOpenFiles}
\draw[e] (fcMetaChg.east) .. controls (1700,3170) and (1800,3140) .. (winCaption.south west);
\draw[e] (fcMetaChg.south east) .. controls (1700,3260) and (2000,3268) .. (2300,3268) .. controls (2500,3268) and (2650,3400) .. ([xshift=-10pt]isActive.north);
\draw[e] (fcMetaChg.west) .. controls (1000,3200) and (450,3200) .. ([xshift=30pt]guiType.south);
\draw[e] (fcMetaChg.east) .. controls (1900,3230) and (2080,3200) .. (2085,3050) .. controls (2090,2960) and (2120,2930) .. (signalName.south west);
\myS{appOpenFiles}{twOpenFiles}
\myS{twOpenFiles}{instanceNr}
\draw[e] (twOpenFiles.east) .. controls (2080,3150) and (2085,3000) .. (2085,2500) -- (2090,1900) .. controls (2095,1800) and (2110,1780) .. (canDecode.south west);
\draw[e] (winCaption.north east) .. controls (2060,3050) and (2100,2950) .. (signalName.south);
\draw[e] (winCaption.west) .. controls (1500,3098) and (600,3105) .. (guiType.east);
\draw[e] (fcModChg.north east) .. controls (1700,3570) and (1800,3540) .. (1830,3450) .. controls (1860,3350) and (1800,3200) .. ([yshift=-10pt]winCaption.west);
\draw[e] (fcModChg.east) .. controls (1800,3660) and (2100,3672) .. (2300,3670) .. controls (2500,3660) and (2600,3640) .. ([yshift=-5pt]isActive.west);
\draw[e] (fcModChg.west) .. controls (1200,3680) and (900,3692) .. (702,3692) .. controls (450,3692) and (300,3300) .. (guiType.south);
\draw[e] (fcSelChg.east) .. controls (1900,3420) and (2300,3470) .. ([yshift=5pt]isActive.west);
\draw[e] (fcSetUndo.east) .. controls (1900,3720) and (2400,3720) .. (isActive.south west);
\draw[e] (visRange.east) .. controls (1800,3890) and (2100,3880) .. (2250,3882) .. controls (2500,3880) and (2650,3700) .. ([xshift=-5pt]isActive.south);
\myS{statusBar}{isActive}
\myS{setParent}{ctxSwitched}
\myS{setParent}{connectN}
\myS{ctxSwitched}{activated}
\myS{activated}{updPlayback}
\draw[e] (activated.east) .. controls (2080,3520) and (2100,3590) .. (fwdZoom.north west);
\myS{connectN}{tracksOfPort}
\draw[e] ([yshift=-6pt]connectN.east) -- ([yshift=-6pt]connOne.west);
\draw[e] ([yshift=6pt]connOne.west) -- ([yshift=6pt]connectN.east);
\myS{connOne}{soPort}
\draw[e] (createMW.east) .. controls (1400,3750) and (1600,3720) .. ([xshift=-5pt]connectN.south);
\draw[e] (createMW.east) .. controls (1500,3775) and (2000,3700) .. (fwdZoom.south west);
\myS{createMW}{visRange}
\draw[e] (updPlayback.north east) .. controls (2330,3150) and (2340,3000) .. (2345,2800) .. controls (2350,2650) and (2420,2560) .. ([xshift=10pt]ms2string.south);
\draw[e] (updPlayback.east) .. controls (2320,3190) and (2330,3120) .. (samples2string.south west);
\myS{updPlayback}{zoomable}
\myS{updPlayback}{scrollTo}
\myS{updPlayback}{statusBar}
\myS{labelName}{mdProperty}
\end{scope}
\end{tikzpicture}
\end{document}
